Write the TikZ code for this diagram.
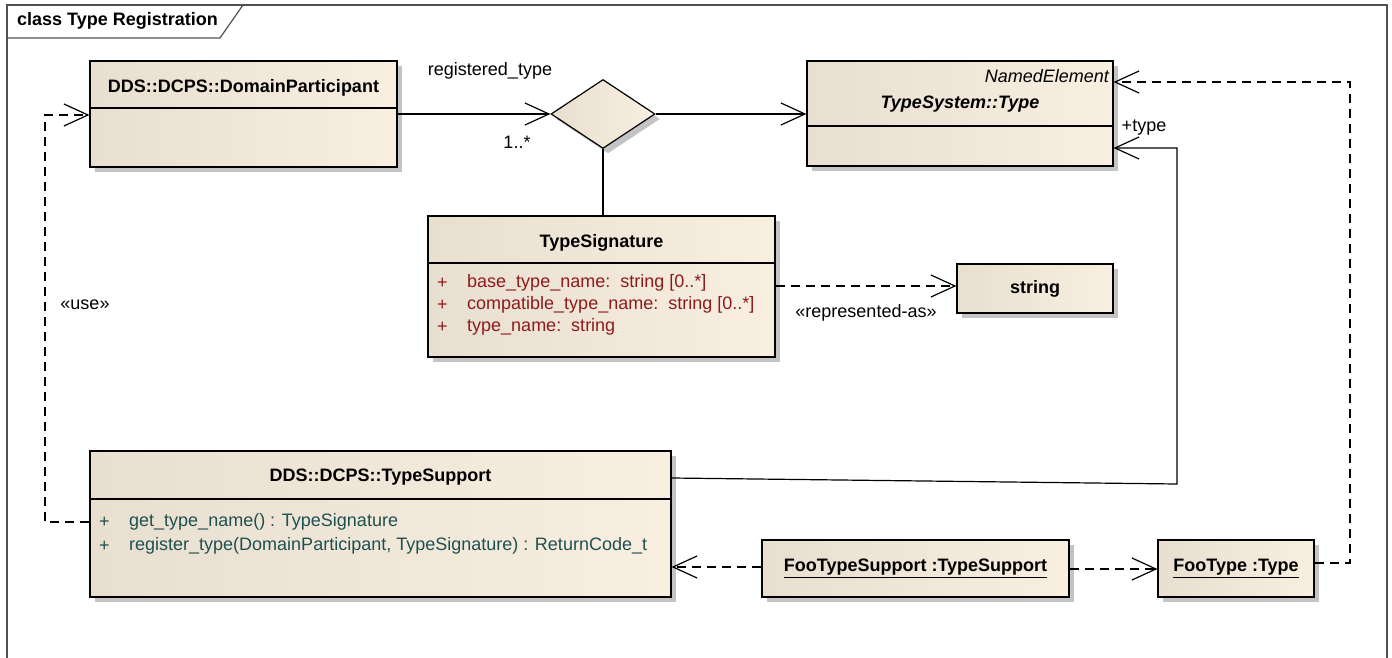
\documentclass[tikz,border=0pt]{standalone}
\usepackage{fontspec}
\setmainfont{Liberation Sans}
\usetikzlibrary{arrows.meta,shapes.geometric,shadows}
\definecolor{fillL}{HTML}{E8DFD1}
\definecolor{fillR}{HTML}{F9EFE1}
\definecolor{attrc}{HTML}{8E1B1B}
\definecolor{opc}{HTML}{1F5050}
\definecolor{shad}{HTML}{C4C4C4}
\definecolor{framec}{HTML}{505050}
\newcommand\dfs{\fontsize{18}{21}\selectfont}
\tikzset{
  shd/.style={drop shadow={shadow xshift=5pt, shadow yshift=-5pt, fill=shad, opacity=1}},
  cls/.style={draw=black, line width=1.2pt, left color=fillL, right color=fillR, shd, inner sep=0pt, font=\dfs\bfseries},
  sep/.style={line width=1.2pt},
  barb/.style={-{Straight Barb[length=24pt,width=22pt]}},
  assoc/.style={line width=1.2pt},
  dep/.style={line width=1.2pt, dash pattern=on 9pt off 6pt},
  txt/.style={font=\dfs, inner sep=0pt},
  attr/.style={font=\dfs, text=attrc, anchor=west, inner sep=0pt},
  oper/.style={font=\dfs, text=opc, anchor=west, inner sep=0pt},
  frame/.style={draw=framec, line width=1.2pt}
}
\begin{document}
\begin{tikzpicture}[x=1pt,y=-1pt]
\useasboundingbox (0,0) rectangle (1392,658);
% frame
\draw[frame] (7,658) -- (7,5) -- (1387,5) -- (1387,658);
\draw[frame] (7,38) -- (220,38) -- (243,5);
\node[font=\dfs\bfseries, anchor=west, inner sep=0pt] (title) at (17,21) {class Type Registration};

% DomainParticipant
\node[cls, minimum width=307pt, minimum height=106pt] (dp) at (243.5,114) {};
\draw[sep] (dp.west |- 0,108) -- (dp.east |- 0,108);
\node[txt, font=\dfs\bfseries] (dpn) at (243.5,88) {DDS::DCPS::DomainParticipant};

% TypeSystem::Type
\node[cls, minimum width=306pt, minimum height=105pt] (ty) at (960,113.5) {};
\draw[sep] (ty.west |- 0,126) -- (ty.east |- 0,126);
\node[txt, font=\dfs\itshape, anchor=east] (ne) at (1109,76) {NamedElement};
\node[txt, font=\dfs\bfseries\itshape] (tyn) at (960,104) {TypeSystem::Type};

% diamond
\node[diamond, draw=black, line width=1.2pt, left color=fillL, right color=fillR, shd,
      minimum width=104pt, minimum height=69pt, inner sep=0pt, aspect=1.507] (dia) at (603,114) {};

% TypeSignature
\node[cls, minimum width=347pt, minimum height=141pt] (ts) at (601.5,286.5) {};
\draw[sep] (ts.west |- 0,263) -- (ts.east |- 0,263);
\node[txt, font=\dfs\bfseries] (tsn) at (601.5,243) {TypeSignature};
\node[attr] (a1p) at (437,283) {+};
\node[attr] (a1) at (467,283) {base\_type\_name:\ \ string [0..*]};
\node[attr] (a2p) at (437,305) {+};
\node[attr] (a2) at (467,305) {compatible\_type\_name:\ \ string [0..*]};
\node[attr] (a3p) at (437,327) {+};
\node[attr] (a3) at (467,327) {type\_name:\ \ string};

% string
\node[cls, minimum width=156pt, minimum height=49pt] (str) at (1035,288.5) {string};

% TypeSupport
\node[cls, minimum width=581pt, minimum height=146pt] (tsup) at (380.5,524) {};
\draw[sep] (tsup.west |- 0,499) -- (tsup.east |- 0,499);
\node[txt, font=\dfs\bfseries] (tsupn) at (380.5,477) {DDS::DCPS::TypeSupport};
\node[oper] (o1p) at (99,522) {+};
\node[oper] (o1) at (129,522) {get\_type\_name() : TypeSignature};
\node[oper] (o2p) at (99,546) {+};
\node[oper] (o2) at (129,546) {register\_type(DomainParticipant, TypeSignature) : ReturnCode\_t};

% instances
\node[cls, minimum width=307pt, minimum height=57pt] (foots) at (915.5,568.5) {\underline{FooTypeSupport :TypeSupport}};
\node[cls, minimum width=156pt, minimum height=57pt] (foot) at (1236,568.5) {\underline{FooType :Type}};

% connectors
\draw[assoc, barb] (dp.east) -- (dia.west);
\node[txt] (rt) at (490,71) {registered\_type};
\node[txt] (mult) at (517,142) {1..*};
\draw[assoc, barb] (dia.east) -- (ty.west |- dia.east);
\draw[assoc] (dia.south) -- (dia.south |- ts.north);

\draw[dep, barb] (ts.east |- 0,286) -- (str.west |- 0,286);
\node[txt] (rep) at (866,313) {«represented-as»};

\coordinate (c1) at (1177,484);
\coordinate (c2) at (1177,148);
\draw[assoc, barb] (tsup.east |- 0,478) -- (c1) -- (c2) -- (ty.east |- c2);
\node[txt] (tlab) at (1144,128) {+type};

\coordinate (u1) at (45,522);
\coordinate (u2) at (45,115);
\draw[dep, barb] (tsup.west |- u1) -- (u1) -- (u2) -- (dp.west |- u2);
\node[txt] (use) at (85,305) {«use»};

\draw[dep, barb] (foots.west |- 0,567) -- (tsup.east |- 0,567);
\draw[dep, barb] (foots.east |- 0,569) -- (foot.west |- 0,569);

\coordinate (f1) at (1350,563);
\coordinate (f2) at (1350,82);
\draw[dep, barb] (foot.east |- f1) -- (f1) -- (f2) -- (ty.east |- f2);
\end{tikzpicture}
\end{document}
